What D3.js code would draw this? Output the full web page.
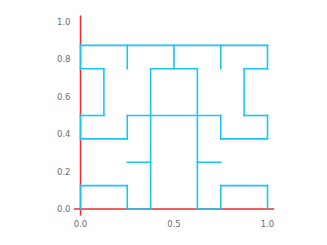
<!DOCTYPE html>
<html><head><meta charset="utf-8">
<script src="https://cdn.jsdelivr.net/npm/d3@7"></script>
<style>body{margin:0;background:#fff}svg{display:block}</style>
</head><body>
<script>
// maze wall segments in data units: [x1, y1, x2, y2]
const segments = [
  [0,0.875,1,0.875],
  [0,0.75,0,0.875],
  [1,0.75,1,0.875],
  [0.25,0.75,0.25,0.875],
  [0.5,0.75,0.5,0.875],
  [0.75,0.75,0.75,0.875],
  [0,0.75,0.125,0.75],
  [0.125,0.5,0.125,0.75],
  [0,0.5,0.125,0.5],
  [0.875,0.75,1,0.75],
  [0.875,0.5,0.875,0.75],
  [0.875,0.5,1,0.5],
  [0.375,0.75,0.625,0.75],
  [0.375,0,0.375,0.75],
  [0.625,0,0.625,0.75],
  [0.25,0.5,0.75,0.5],
  [0,0.375,0,0.5],
  [0,0.375,0.25,0.375],
  [0.25,0.375,0.25,0.5],
  [1,0.375,1,0.5],
  [0.75,0.375,1,0.375],
  [0.75,0.375,0.75,0.5],
  [0.25,0.25,0.375,0.25],
  [0.625,0.25,0.75,0.25],
  [0,0.125,0.25,0.125],
  [0,0,0,0.125],
  [0.25,0,0.25,0.125],
  [0.25,0,0.375,0],
  [0.75,0.125,1,0.125],
  [0.75,0,0.75,0.125],
  [1,0,1,0.125],
  [0.625,0,0.75,0]
];
const xTicks = [0, 0.5, 1.0];
const yTicks = [0, 0.2, 0.4, 0.6, 0.8, 1.0];
const axisExtent = [-0.035, 1.035];

const W = 327, H = 245;
const x = d3.scaleLinear().domain([0,1]).range([80.5, 267.5]);
const y = d3.scaleLinear().domain([0,1]).range([209, 22]);

const svg = d3.select("body").append("svg").attr("width", W).attr("height", H);

// axis spines
svg.append("line")
  .attr("x1", x(axisExtent[0])).attr("x2", x(axisExtent[1]))
  .attr("y1", y(0)).attr("y2", y(0))
  .attr("stroke", "#f02a2a").attr("stroke-width", 1.5);
svg.append("line")
  .attr("x1", x(0)).attr("x2", x(0))
  .attr("y1", y(axisExtent[0])).attr("y2", y(axisExtent[1]))
  .attr("stroke", "#f02a2a").attr("stroke-width", 1.5);

// tick labels
svg.append("g").selectAll("text").data(yTicks).join("text")
  .attr("x", 70.5).attr("y", d => y(d)).attr("dy", "0.35em")
  .attr("text-anchor", "end")
  .attr("font-family", "DejaVu Sans").attr("font-size", 8.5)
  .attr("fill", "#6e6e6e")
  .text(d => d3.format(".1f")(d));
svg.append("g").selectAll("text").data(xTicks).join("text")
  .attr("x", d => x(d)).attr("y", 224).attr("dy", "0.35em")
  .attr("text-anchor", "middle")
  .attr("font-family", "DejaVu Sans").attr("font-size", 8.5)
  .attr("fill", "#6e6e6e")
  .text(d => d3.format(".1f")(d));

// maze segments
svg.append("g").selectAll("line").data(segments).join("line")
  .attr("x1", d => x(d[0])).attr("y1", d => y(d[1]))
  .attr("x2", d => x(d[2])).attr("y2", d => y(d[3]))
  .attr("stroke", "#1ec4f5").attr("stroke-width", 1.6)
  .attr("stroke-linecap", "square");
</script>
</body></html>
